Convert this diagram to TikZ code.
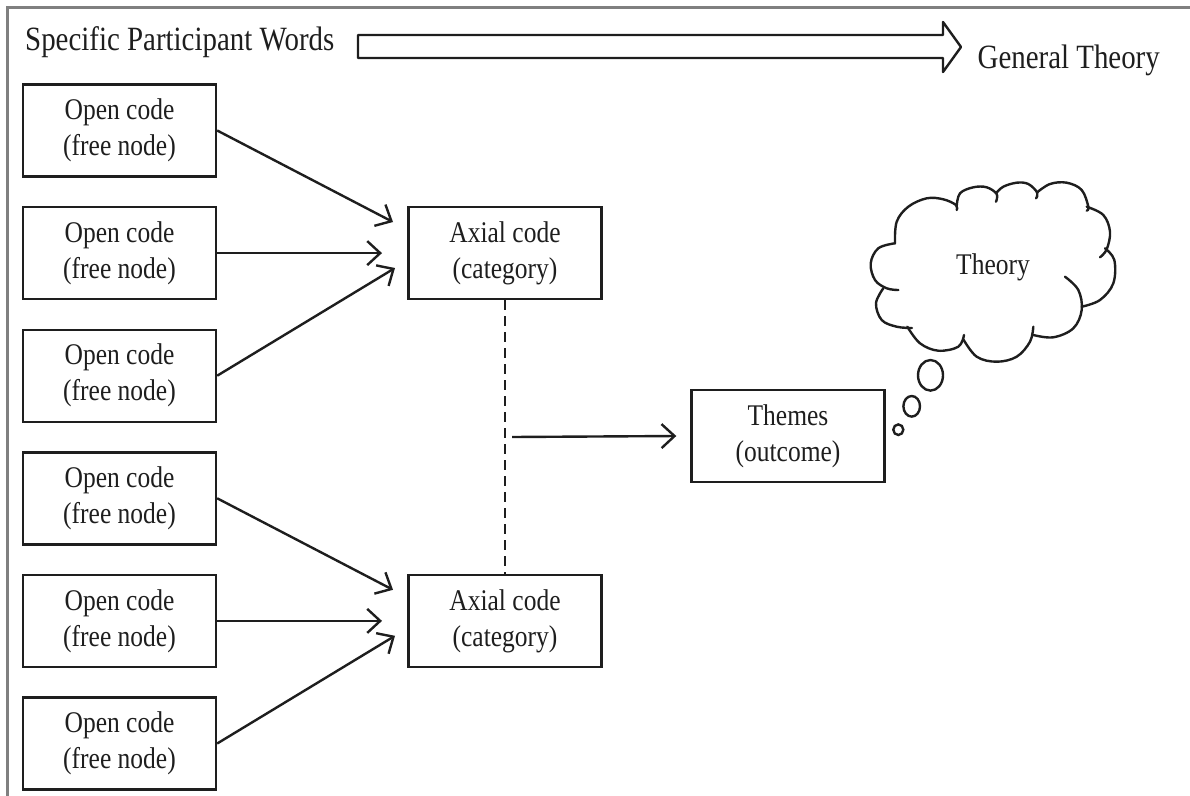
\documentclass[tikz,border=0pt]{standalone}
\usepackage{fontspec}
\setmainfont{Liberation Serif}[FakeStretch=0.85]
\usetikzlibrary{arrows.meta,calc}
\definecolor{framegray}{RGB}{128,128,128}
\definecolor{ink}{RGB}{30,30,30}
\begin{document}
\begin{tikzpicture}[x=1pt,y=-1pt,
  box/.style={draw=ink,line width=2.4pt,minimum width=193pt,minimum height=92pt,
    inner sep=0pt,align=center,text=ink,font=\fontsize{30}{36}\selectfont},
  flow/.style={draw=ink,line width=2.4pt,-{Straight Barb[length=13pt,width=24pt]}},
  link/.style={draw=ink,line width=2.4pt,dash pattern=on 10pt off 6pt},
  outline/.style={draw=ink,line width=2.4pt,line join=round},
  lobe/.style={draw=ink,line width=2.4pt,line cap=round,smooth,tension=0.6},
  bubble/.style={draw=ink,line width=2.4pt},
  heading/.style={inner sep=0pt,text=ink,font=\fontsize{34}{40}\selectfont}]
\useasboundingbox (0,0) rectangle (1190,795);

% frame
\draw[framegray,line width=3pt] (7,800) -- (7,7) -- (1195,7);

% heading and direction arrow
\node[heading,anchor=base west] (spec) at (25,50) {Specific Participant Words};
\node[heading,anchor=base east] (gen) at (1160,68) {General Theory};
\draw[outline] (358,35) -- (943,35) -- (943,22) -- (961,47) -- (943,72)
  -- (943,58) -- (358,58) -- cycle;

% open codes
\node[box] (o1) at (119.5,130.5) {Open code\\(free node)};
\node[box] (o2) at (119.5,253.1) {Open code\\(free node)};
\node[box] (o3) at (119.5,375.7) {Open code\\(free node)};
\node[box] (o4) at (119.5,498.3) {Open code\\(free node)};
\node[box] (o5) at (119.5,620.9) {Open code\\(free node)};
\node[box] (o6) at (119.5,743.5) {Open code\\(free node)};

% axial codes and themes
\node[box] (ax1) at (505,253.1) {Axial code\\(category)};
\node[box] (ax2) at (505,620.9) {Axial code\\(category)};
\node[box] (th) at (788,436) {Themes\\(outcome)};

% arrow ends
\coordinate (t1) at (393,222);
\coordinate (t2) at (382,253.1);
\coordinate (t3) at (395,268);
\coordinate (t4) at (393,589.8);
\coordinate (t5) at (382,620.9);
\coordinate (t6) at (395,635.8);

\draw[flow] (o1.east) -- (t1);
\draw[flow] (o2.east) -- (t2);
\draw[flow] (o3.east) -- (t3);
\draw[flow] (o4.east) -- (t4);
\draw[flow] (o5.east) -- (t5);
\draw[flow] (o6.east) -- (t6);

\draw[link] (ax1.south) -- (ax2.north);
\coordinate (mid) at ($(ax1.south)!0.5!(ax2.north)$);
\draw[flow] ([xshift=7pt]mid) -- ([xshift=-14pt]th.west);

% thought cloud
\draw[lobe] plot coordinates {(895,243.3) (878.3,248.3) (870.7,263.3) (875,280) (886.7,288.3) (898.3,290)};
\draw[lobe] plot coordinates {(895,243.3) (896.7,221.7) (908.3,206.7) (926.7,198.3) (943.3,199.3) (956,205) (956.7,210)};
\draw[lobe] plot coordinates {(956.7,206) (960,193.3) (973.3,187.3) (986.7,187.3) (996.7,194) (996,201.7)};
\draw[lobe] plot coordinates {(996,193.3) (1003.3,186.7) (1016.7,182.7) (1028.3,184) (1037.3,192.7) (1036,198.3)};
\draw[lobe] plot coordinates {(1036.7,192.7) (1050,184) (1066.7,182.7) (1081.7,190) (1088.3,206.7) (1086.7,210.7)};
\draw[lobe] plot coordinates {(1086.7,206.7) (1103.3,215) (1110,231.7) (1106.7,249.3) (1100,257.3)};
\draw[lobe] plot coordinates {(1105,248.3) (1114.3,260) (1113.3,283.3) (1100,300) (1081.7,306.7)};
\draw[lobe] plot coordinates {(1065,276.7) (1078.3,290) (1081.7,310) (1073.3,328.3) (1053.3,337.3) (1033.3,335)};
\draw[lobe] plot coordinates {(1033.3,326.7) (1030,341.7) (1016.7,356.7) (996.7,361.7) (976.7,356.7) (963.3,339.3)};
\draw[lobe] plot coordinates {(907.3,326.7) (920,343.3) (938.3,350.7) (958.3,346.7) (964,335)};
\draw[lobe] plot coordinates {(912,328) (896.7,326.7) (881.7,320) (876,303.3) (883.3,288.3)};
\node[font=\fontsize{30}{36}\selectfont,text=ink,inner sep=0pt] (theory) at (993,267) {Theory};

% thought bubbles
\draw[bubble] (930.5,375.3) ellipse [x radius=12.5pt, y radius=15.3pt];
\draw[bubble] (911.7,406.3) ellipse [x radius=8.3pt, y radius=10.3pt];
\draw[bubble] (898.3,429.7) ellipse [x radius=5pt, y radius=5.3pt];
\end{tikzpicture}
\end{document}
